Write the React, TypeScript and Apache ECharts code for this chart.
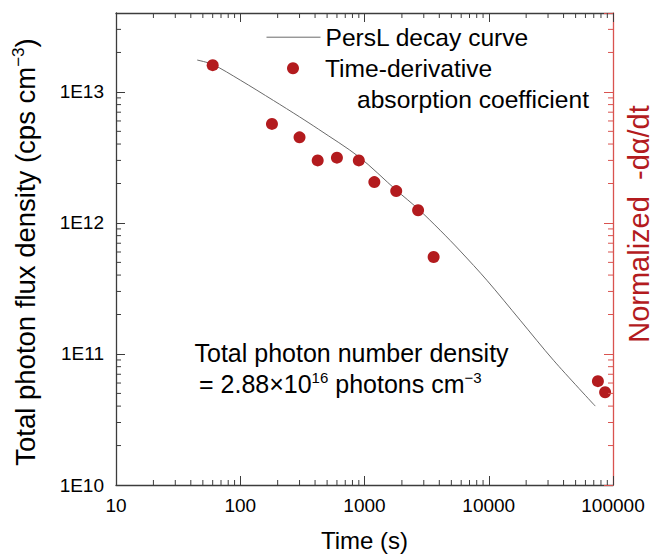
import React, { useEffect, useRef } from 'react';
import * as echarts from 'echarts';

// Axis ranges
const X_MIN = 10;
const X_MAX = 100000;
const Y_MIN = 1e10;
const Y_MAX = 4e13;

// PersL decay curve (time in s, photon flux density in cps cm^-3)
const curveTime = [45, 60, 100, 185, 300, 425, 900, 1800, 2700, 4060, 5900, 9660, 17900, 33200, 72000];
const curveFlux = [1.75e13, 1.62e13, 1.23e13, 8.6e12, 6.45e12, 5.2e12, 3.2e12, 1.78e12, 1.28e12, 8.8e11, 6.1e11, 3.65e11, 1.81e11, 8.95e10, 4.0e10];

// Time-derivative absorption coefficient (normalized)
const pointTime = [60, 180, 300, 420, 600, 900, 1200, 1800, 2700, 3600, 75600, 86400];
const pointValue = [1.6e13, 5.7e12, 4.5e12, 3.0e12, 3.15e12, 3.0e12, 2.05e12, 1.75e12, 1.25e12, 5.5e11, 6.2e10, 5.1e10];

// Minor tick values
const xMinorTicks = [20, 30, 40, 50, 60, 70, 80, 90, 200, 300, 400, 500, 600, 700, 800, 900, 2000, 3000, 4000, 5000, 6000, 7000, 8000, 9000, 20000, 30000, 40000, 50000, 60000, 70000, 80000, 90000];
const yMinorTicks = [2e10, 3e10, 4e10, 5e10, 6e10, 7e10, 8e10, 9e10, 2e11, 3e11, 4e11, 5e11, 6e11, 7e11, 8e11, 9e11, 2e12, 3e12, 4e12, 5e12, 6e12, 7e12, 8e12, 9e12, 2e13, 3e13];

const FONT = 'Liberation Sans, Arial, Helvetica, sans-serif';
const AXIS_COLOR = '#3c3c3c';
const RED = '#B31B1E';
const RIGHT_AXIS = '#D9534F';
const CURVE = '#6a6a6a';
const MINOR_LEN = 5;
const TEXT_SIZE = 24.6;

function tickSeries(name: string, data: number[][], size: number[], offset: number[], color: string, yAxisIndex: number) {
  return {
    name,
    type: 'scatter',
    xAxisIndex: 0,
    yAxisIndex,
    silent: true,
    clip: false,
    symbol: 'rect',
    symbolSize: size,
    symbolOffset: offset,
    itemStyle: { color, opacity: 1 },
    emphasis: { disabled: true },
    tooltip: { show: false },
    data,
    z: 4,
  };
}

export default function App() {
  const ref = useRef<HTMLDivElement>(null);
  useEffect(() => {
    const chart = echarts.init(ref.current as HTMLDivElement, null, { renderer: 'svg' });

    const xLabel = (v: number) => String(Math.round(v));
    const yLabel = (v: number) => '1E' + Math.round(Math.log10(v));

    chart.setOption({
      animation: false,
      backgroundColor: '#fff',
      textStyle: { fontFamily: FONT },
      grid: { left: 116, top: 13, width: 497, height: 472, containLabel: false, outerBoundsMode: 'none' },
      legend: [
        {
          data: [
            {
              name: 'PersL decay curve',
              itemStyle: { color: 'transparent', borderWidth: 0 },
              lineStyle: { color: CURVE, width: 1, opacity: 1 },
            },
          ],
          left: 266,
          top: 24.7,
          orient: 'vertical',
          selectedMode: false,
          itemWidth: 54,
          itemHeight: 12,
          padding: 0,
          textStyle: { fontFamily: FONT, fontSize: TEXT_SIZE, color: '#000', lineHeight: 24 },
        },
        {
          data: [{ name: 'Time-derivative absorption coefficient', icon: 'circle' }],
          left: 287,
          top: 21.8,
          orient: 'vertical',
          selectedMode: false,
          itemWidth: 54,
          itemHeight: 12,
          padding: 0,
          formatter: () => 'Time-derivative\n{b|absorption coefficient}',
          textStyle: {
            fontFamily: FONT,
            fontSize: TEXT_SIZE,
            color: '#000',
            lineHeight: 31,
            padding: [31, 0, 0, 0],
            rich: { b: { fontFamily: FONT, fontSize: TEXT_SIZE, color: '#000', lineHeight: 31, padding: [0, 0, 0, 32] } },
          },
        },
      ],
      xAxis: [
        {
          type: 'log',
          logBase: 10,
          min: X_MIN,
          max: X_MAX,
          position: 'bottom',
          name: 'Time (s)',
          nameLocation: 'middle',
          nameGap: 43,
          nameTextStyle: { fontFamily: FONT, fontSize: 24, color: '#000', lineHeight: 24 },
          axisLine: { show: true, lineStyle: { color: AXIS_COLOR, width: 1.3 } },
          axisTick: { show: true, inside: true, length: 9, lineStyle: { color: AXIS_COLOR, width: 1 } },
          axisLabel: { fontFamily: FONT, fontSize: 19, color: '#000', margin: 11, formatter: xLabel },
          splitLine: { show: false },
        },
        {
          type: 'log',
          logBase: 10,
          min: X_MIN,
          max: X_MAX,
          position: 'top',
          axisLine: { show: true, lineStyle: { color: AXIS_COLOR, width: 1.3 } },
          axisTick: { show: true, inside: true, length: 9, lineStyle: { color: AXIS_COLOR, width: 1 } },
          axisLabel: { show: false },
          splitLine: { show: false },
        },
      ],
      yAxis: [
        {
          type: 'log',
          logBase: 10,
          min: Y_MIN,
          max: Y_MAX,
          position: 'left',
          name: 'Total photon flux density (cps cm{sup|\u22123})',
          nameLocation: 'middle',
          nameRotate: 90,
          nameGap: 76,
          nameTextStyle: {
            fontFamily: FONT,
            fontSize: 27.5,
            color: '#000',
            lineHeight: 30,
            padding: [0, 6, 0, 0],
            rich: { sup: { fontFamily: FONT, fontSize: 17, color: '#000', verticalAlign: 'top', lineHeight: 16 } },
          },
          axisLine: { show: true, lineStyle: { color: AXIS_COLOR, width: 1.3 } },
          axisTick: { show: true, inside: true, length: 9, lineStyle: { color: AXIS_COLOR, width: 1 } },
          axisLabel: { fontFamily: FONT, fontSize: 19, color: '#000', margin: 12, formatter: yLabel, showMaxLabel: false },
          splitLine: { show: false },
        },
        {
          type: 'log',
          logBase: 10,
          min: Y_MIN,
          max: Y_MAX,
          position: 'right',
          name: 'Normalized\u00A0\u00A0-d\u03B1/dt',
          nameLocation: 'middle',
          nameRotate: 90,
          nameGap: 12,
          nameTextStyle: { fontFamily: FONT, fontSize: 29, color: RED, lineHeight: 28, padding: [0, 0, 0, 50] },
          axisLine: { show: true, lineStyle: { color: RIGHT_AXIS, width: 1.3 } },
          axisTick: { show: true, inside: true, length: 9, lineStyle: { color: RIGHT_AXIS, width: 1 } },
          axisLabel: { show: false },
          splitLine: { show: false },
        },
      ],
      graphic: [
        {
          type: 'text',
          x: 194.5,
          y: 353.4,
          silent: true,
          style: { text: 'Total photon number density', fontFamily: FONT, fontSize: 25, fill: '#000', align: 'left', verticalAlign: 'middle' },
        },
        {
          type: 'text',
          x: 199,
          y: 384.4,
          silent: true,
          style: {
            text: '= 2.88\u00D710{sup|16} photons cm{sup|\u22123}',
            fontFamily: FONT,
            fontSize: 25,
            fill: '#000',
            align: 'left',
            verticalAlign: 'middle',
            lineHeight: 28,
            rich: { sup: { fontFamily: FONT, fontSize: 15, fill: '#000', verticalAlign: 'top', lineHeight: 16 } },
          },
        },
      ],
      series: [
        {
          name: 'PersL decay curve',
          type: 'line',
          xAxisIndex: 0,
          yAxisIndex: 0,
          data: curveTime.map((t, i) => [t, curveFlux[i]]),
          smooth: 0.3,
          symbol: 'none',
          showSymbol: false,
          lineStyle: { color: CURVE, width: 1 },
          itemStyle: { color: CURVE },
          z: 2,
        },
        {
          name: 'Time-derivative absorption coefficient',
          type: 'scatter',
          xAxisIndex: 0,
          yAxisIndex: 1,
          data: pointTime.map((t, i) => [t, pointValue[i]]),
          symbol: 'circle',
          symbolSize: 12,
          itemStyle: { color: RED, opacity: 1 },
          z: 3,
        },
        tickSeries('xMinorBottom', xMinorTicks.map((v) => [v, Y_MIN]), [1, MINOR_LEN], [0, -MINOR_LEN / 2], AXIS_COLOR, 0),
        tickSeries('xMinorTop', xMinorTicks.map((v) => [v, Y_MAX]), [1, MINOR_LEN], [0, MINOR_LEN / 2], AXIS_COLOR, 0),
        tickSeries('yMinorLeft', yMinorTicks.map((v) => [X_MIN, v]), [MINOR_LEN, 1], [MINOR_LEN / 2, 0], AXIS_COLOR, 0),
        tickSeries('yMinorRight', yMinorTicks.map((v) => [X_MAX, v]), [MINOR_LEN, 1], [-MINOR_LEN / 2, 0], RIGHT_AXIS, 1),
      ],
    });
    return () => chart.dispose();
  }, []);
  return <div ref={ref} style={{ position: 'absolute', left: 0, top: 0, width: 655, height: 554, background: '#fff' }} />;
}
